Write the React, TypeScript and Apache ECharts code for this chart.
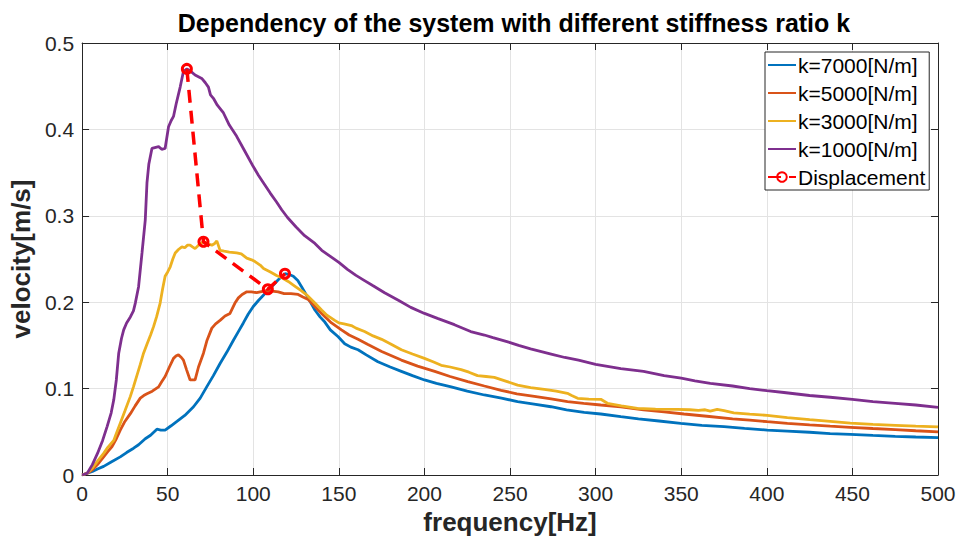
import React, { useEffect, useRef } from "react";
import * as echarts from "echarts";

const FONT = "'Liberation Sans', Arial, Helvetica, sans-serif";

const titleText = "Dependency of the system with different stiffness ratio k";
const xName = "frequency[Hz]";
const yName = "velocity[m/s]";
const seriesNames = ["k=7000[N/m]", "k=5000[N/m]", "k=3000[N/m]", "k=1000[N/m]", "Displacement"];
const seriesColors = ["#0072BD", "#D95319", "#EDB120", "#7E2F8E", "#FF0000"];

// [frequency Hz, velocity m/s]
const k7000: [number, number][] = [
  [0, 0], [3, 0.002], [6, 0.004], [9, 0.007], [12.6, 0.01], [17, 0.015], [22.3, 0.021], [26, 0.026],
  [30.1, 0.031], [33, 0.035], [36.9, 0.042], [40, 0.046], [43.7, 0.053], [46, 0.052], [48.5, 0.052],
  [52, 0.057], [55.4, 0.062], [60, 0.069], [65.1, 0.079], [69, 0.089], [72.8, 0.102], [76.7, 0.115],
  [80.6, 0.129], [84.5, 0.142], [88.4, 0.156], [91.3, 0.166], [94.2, 0.176], [97, 0.186], [100, 0.195],
  [103, 0.202], [105.9, 0.208], [108.8, 0.214], [111.7, 0.22], [114.6, 0.226], [118.5, 0.233],
  [121, 0.232], [123.4, 0.23], [126, 0.225], [128.2, 0.218], [132, 0.205], [136, 0.191], [139, 0.183],
  [141.8, 0.177], [145, 0.168], [149.6, 0.16], [153.4, 0.152], [157, 0.148], [161.2, 0.145], [166, 0.139],
  [172.8, 0.131], [180, 0.125], [186.5, 0.12], [193, 0.115], [200, 0.11], [207, 0.106], [215.6, 0.102],
  [225, 0.097], [235, 0.0926], [245, 0.089], [254.4, 0.0849], [264, 0.082], [273.9, 0.079], [283, 0.0755],
  [293.3, 0.0725], [303, 0.0706], [314.7, 0.0675], [325, 0.065], [337, 0.0625], [349.7, 0.0598],
  [362, 0.0575], [375, 0.056], [387, 0.054], [400.2, 0.052], [412, 0.0508], [425, 0.0495], [437, 0.048],
  [448.8, 0.047], [462, 0.0458], [475, 0.0448], [487, 0.044], [500, 0.0432],
];

const k5000: [number, number][] = [
  [0, 0], [3, 0.002], [6, 0.006], [9, 0.012], [12.6, 0.021], [15, 0.027], [17.5, 0.033], [20, 0.042],
  [22.3, 0.052], [25, 0.062], [28.2, 0.071], [31, 0.08], [34, 0.089], [36, 0.092], [37.9, 0.094],
  [41, 0.097], [44.7, 0.102], [46.5, 0.108], [48.5, 0.114], [51, 0.125], [53.4, 0.135], [55, 0.138],
  [56.3, 0.139], [58, 0.136], [59.2, 0.133], [61, 0.122], [63.1, 0.11], [66, 0.11], [68, 0.125],
  [70.9, 0.141], [73, 0.156], [75.8, 0.17], [78, 0.175], [80.6, 0.179], [83.5, 0.184], [86.4, 0.187],
  [89.3, 0.199], [91.3, 0.205], [93.5, 0.209], [96.2, 0.212], [99, 0.212], [102, 0.211], [106.8, 0.213],
  [109.7, 0.213], [114.6, 0.212], [118, 0.21], [122, 0.21], [126.2, 0.209], [129, 0.206], [132.1, 0.203],
  [136, 0.195], [139.9, 0.187], [145.7, 0.176], [151.5, 0.168], [156, 0.162], [161.2, 0.157], [167, 0.151],
  [175, 0.143], [186.5, 0.133], [196, 0.126], [206, 0.12], [215, 0.114], [225.3, 0.108], [235, 0.103],
  [244.8, 0.098], [254, 0.094], [264.2, 0.091], [274, 0.088], [283.6, 0.085], [293, 0.083], [303, 0.081],
  [314.7, 0.079], [328, 0.0755], [340, 0.073], [351.6, 0.0706], [365, 0.068], [380, 0.065], [390, 0.0635],
  [400.2, 0.0617], [412, 0.0598], [425, 0.058], [437, 0.0565], [448.8, 0.0552], [462, 0.0538],
  [475, 0.0525], [487, 0.0512], [500, 0.05],
];

const k3000: [number, number][] = [
  [0, 0], [3, 0.002], [6, 0.008], [9, 0.016], [12.6, 0.025], [15, 0.032], [18.5, 0.04], [20, 0.048],
  [22.3, 0.06], [25, 0.074], [28.2, 0.091], [30, 0.102], [32, 0.115], [34, 0.128], [35.9, 0.141],
  [38, 0.152], [40, 0.162], [41.8, 0.172], [43.5, 0.183], [45.6, 0.199], [47, 0.215], [48.5, 0.23],
  [50, 0.235], [51.5, 0.241], [53, 0.25], [54.4, 0.257], [56.3, 0.261], [58.3, 0.264], [60, 0.263],
  [61.5, 0.266], [63.1, 0.266], [64.5, 0.264], [66, 0.262], [68, 0.266], [70.9, 0.27], [73, 0.268],
  [75.8, 0.266], [77.5, 0.268], [78.7, 0.271], [80.6, 0.26], [83, 0.259], [86, 0.258], [90.3, 0.257],
  [93, 0.256], [96.2, 0.251], [99, 0.249], [101, 0.247], [104, 0.243], [106, 0.239], [110, 0.235],
  [113.6, 0.231], [117, 0.228], [120.4, 0.224], [124, 0.219], [128.2, 0.213], [132, 0.207], [136, 0.199],
  [139.9, 0.191], [143, 0.185], [147.6, 0.179], [150, 0.176], [153, 0.175], [157.3, 0.173], [160, 0.17],
  [165, 0.166], [170, 0.161], [175, 0.157], [180, 0.152], [186.5, 0.145], [193, 0.14], [200, 0.135],
  [205, 0.131], [209.8, 0.127], [215, 0.125], [221.4, 0.122], [226, 0.119], [231, 0.115], [236, 0.114],
  [240.8, 0.113], [247, 0.109], [254.4, 0.104], [262, 0.101], [270, 0.099], [277, 0.097], [283.5, 0.0945],
  [286, 0.092], [289.5, 0.0888], [296, 0.0878], [303, 0.0876], [306.9, 0.083], [315, 0.08], [324.4, 0.077],
  [335, 0.0762], [347.7, 0.076], [355, 0.0755], [360, 0.0748], [364, 0.0755], [367, 0.074], [371, 0.076],
  [375, 0.0745], [380.7, 0.072], [390, 0.0705], [400.2, 0.069], [412, 0.0665], [425, 0.064], [437, 0.062],
  [448.8, 0.06], [462, 0.0585], [475, 0.0575], [487, 0.0565], [500, 0.0556],
];

const k1000: [number, number][] = [
  [0, 0], [3, 0.002], [6, 0.012], [9, 0.025], [12, 0.04], [14.6, 0.056], [17, 0.072], [18.5, 0.087],
  [20, 0.11], [21.4, 0.141], [23, 0.158], [24.3, 0.168], [26, 0.176], [28.2, 0.183], [30, 0.19],
  [31.1, 0.199], [33, 0.218], [35, 0.257], [36.9, 0.295], [37.9, 0.338], [39, 0.36], [40.8, 0.378],
  [42.5, 0.379], [44.7, 0.38], [46.5, 0.377], [48.5, 0.378], [50.5, 0.403], [52, 0.41], [53.4, 0.415],
  [55, 0.43], [57.3, 0.449], [59.2, 0.467], [61.2, 0.47], [63, 0.468], [66, 0.463], [69.9, 0.459],
  [72, 0.454], [73.8, 0.449], [75, 0.44], [76.7, 0.436], [79, 0.428], [82.6, 0.419], [86, 0.405],
  [90.3, 0.392], [95, 0.375], [100, 0.357], [103, 0.347], [106, 0.338], [110, 0.326], [113.6, 0.316],
  [116.6, 0.307], [120, 0.298], [125, 0.287], [130, 0.277], [136, 0.268], [140, 0.26], [145, 0.253],
  [150, 0.246], [155, 0.238], [160, 0.231], [165, 0.225], [170, 0.219], [176.7, 0.211], [185, 0.202],
  [192, 0.194], [200, 0.187], [208, 0.181], [217.5, 0.174], [227, 0.166], [235, 0.162], [240, 0.159],
  [248.7, 0.154], [255, 0.15], [262, 0.146], [274, 0.14], [282, 0.136], [290, 0.133], [300, 0.128],
  [314.7, 0.123], [328, 0.12], [340, 0.115], [350, 0.112], [358, 0.109], [367, 0.106], [380, 0.103],
  [390, 0.1], [400, 0.0976], [410, 0.0955], [425, 0.092], [437, 0.09], [450, 0.0876], [462, 0.085],
  [475, 0.083], [487, 0.081], [500, 0.0783],
];

const displacement: [number, number][] = [
  [61.2, 0.47], [70.9, 0.27], [108.5, 0.215], [118.5, 0.233],
];

const X_MIN = 0;
const X_MAX = 500;
const X_STEP = 50;
const Y_MIN = 0;
const Y_MAX = 0.5;
const Y_STEP = 0.1;

export default function App() {
  const ref = useRef<HTMLDivElement>(null);

  useEffect(() => {
    if (!ref.current) return;
    const chart = echarts.init(ref.current, undefined, { renderer: "svg" });
    const axisColor = "#262626";
    const gridColor = "#e3e3e3";
    const tickFont = 21;

    const baseX = {
      type: "value" as const,
      min: X_MIN,
      max: X_MAX,
      interval: X_STEP,
      axisLine: { show: true, onZero: false, lineStyle: { color: axisColor, width: 1 } },
      axisTick: { show: true, inside: true, length: 7, lineStyle: { color: axisColor } },
    };
    const baseY = {
      type: "value" as const,
      min: Y_MIN,
      max: Y_MAX,
      interval: Y_STEP,
      axisLine: { show: true, onZero: false, lineStyle: { color: axisColor, width: 1 } },
      axisTick: { show: true, inside: true, length: 7, lineStyle: { color: axisColor } },
    };

    const lineSeries = [k7000, k5000, k3000, k1000].map((d, i) => ({
      name: seriesNames[i],
      type: "line" as const,
      data: d,
      symbol: "none",
      showSymbol: false,
      lineStyle: { color: seriesColors[i], width: 2.8 },
      itemStyle: { color: seriesColors[i] },
      z: 2 + i,
    }));

    chart.setOption({
      animation: false,
      backgroundColor: "#ffffff",
      textStyle: { fontFamily: FONT },
      title: {
        text: titleText,
        left: 509,
        top: 5,
        textAlign: "center",
        textStyle: { fontFamily: FONT, fontSize: 25, fontWeight: "bold", color: "#000000" },
      },
      grid: { left: 80, right: 22, top: 43, bottom: 69, containLabel: false },
      legend: {
        orient: "vertical",
        left: 765,
        top: 52,
        padding: [1, 4, 1, 2],
        itemGap: 4,
        itemWidth: 28,
        itemHeight: 12,
        backgroundColor: "#ffffff",
        borderColor: axisColor,
        borderWidth: 1,
        borderRadius: 0,
        data: seriesNames.map((n, i) =>
          i < 4 ? { name: n, itemStyle: { opacity: 0 } } : { name: n }
        ),
        textStyle: { fontFamily: FONT, fontSize: 21, color: "#000000", lineHeight: 24, padding: [0, 0, 0, -3] },
      },
      xAxis: [
        {
          ...baseX,
          position: "bottom",
          name: xName,
          nameLocation: "middle",
          nameGap: 33,
          nameTextStyle: { fontFamily: FONT, fontSize: 26, fontWeight: "bold", color: axisColor },
          axisLabel: { fontFamily: FONT, fontSize: tickFont, color: axisColor, margin: 8 },
          splitLine: { show: true, lineStyle: { color: gridColor, width: 1 } },
        },
        {
          ...baseX,
          position: "top",
          axisLabel: { show: false },
          splitLine: { show: false },
        },
      ],
      yAxis: [
        {
          ...baseY,
          position: "left",
          name: yName,
          nameLocation: "middle",
          nameGap: 44,
          nameTextStyle: { fontFamily: FONT, fontSize: 26, fontWeight: "bold", color: axisColor },
          axisLabel: { fontFamily: FONT, fontSize: tickFont, color: axisColor, margin: 8 },
          splitLine: { show: true, lineStyle: { color: gridColor, width: 1 } },
        },
        {
          ...baseY,
          position: "right",
          axisLabel: { show: false },
          splitLine: { show: false },
        },
      ],
      series: [
        ...lineSeries,
        {
          name: seriesNames[4],
          type: "line",
          data: displacement,
          symbol: "circle",
          symbolSize: 9,
          showSymbol: true,
          lineStyle: { color: seriesColors[4], width: 3.5, type: [13, 8] },
          itemStyle: { color: "rgba(255,255,255,0)", borderColor: seriesColors[4], borderWidth: 3 },
          z: 10,
        },
      ],
    });
    return () => chart.dispose();
  }, []);

  return (
    <div
      ref={ref}
      style={{ position: "fixed", left: 0, top: 0, width: 960, height: 544, background: "#fff" }}
    />
  );
}
